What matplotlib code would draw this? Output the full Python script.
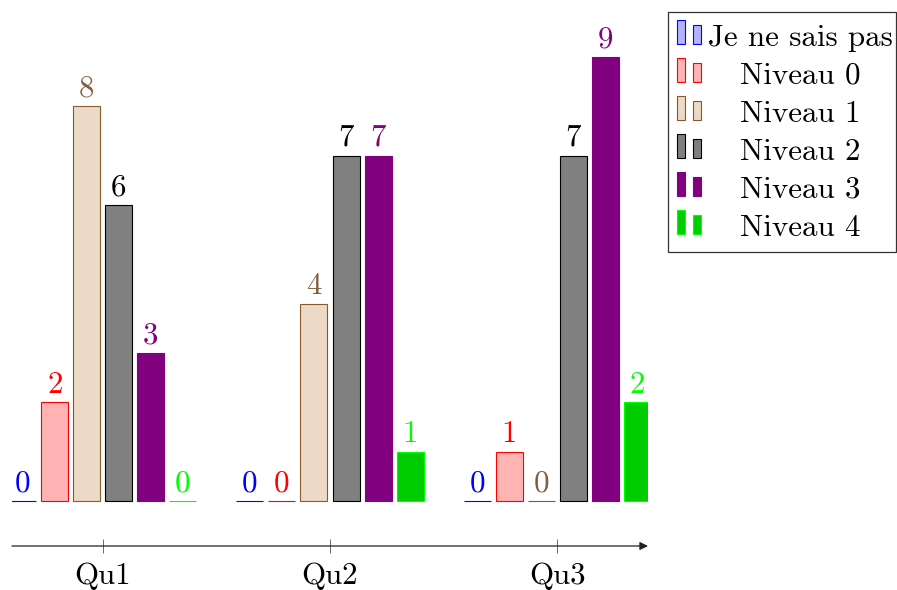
import matplotlib
matplotlib.use('Agg')
import matplotlib.pyplot as plt
from matplotlib.patches import Rectangle
import numpy as np

plt.rcParams['font.family'] = ['cmr10', 'DejaVu Serif']
plt.rcParams['mathtext.fontset'] = 'cm'
plt.rcParams['axes.formatter.use_mathtext'] = True

# ---- data ----
groups = ['Qu1', 'Qu2', 'Qu3']
series_names = ['Je ne sais pas', 'Niveau 0', 'Niveau 1', 'Niveau 2', 'Niveau 3', 'Niveau 4']
je_ne_sais_pas = [0, 0, 0]
niveau0 = [2, 0, 1]
niveau1 = [8, 4, 0]
niveau2 = [6, 7, 7]
niveau3 = [3, 7, 9]
niveau4 = [0, 1, 2]
series = [je_ne_sais_pas, niveau0, niveau1, niveau2, niveau3, niveau4]

fills = ['#b3b3ff', '#ffb3b3', '#ecd9c6', '#808080', '#800080', '#00cc00']
edges = ['#0000ff', '#ff0000', '#865a2d', '#000000', '#800080', '#00ff00']
label_colors = ['#0000ff', '#ff0000', '#80603f', '#000000', '#800080', '#00ff00']

W, H = 897, 590
fig = plt.figure(figsize=(W / 100, H / 100), dpi=100)
ax = fig.add_axes([12 / W, 1 - 546 / H, (648 - 12) / W, (546 - 20) / H])

x = np.arange(1, len(groups) + 1)
bw = 27 / 227
step = 32 / 227
FS = 22.3
for i, vals in enumerate(series):
    xs = x + (i - 2.5) * step
    ax.bar(xs, vals, width=bw, color=fills[i], edgecolor=edges[i], linewidth=0.8)
    for xx, v in zip(xs, vals):
        ax.annotate(str(v), (xx, v), xytext=(0, 7), textcoords='offset points',
                    ha='center', va='baseline', color=label_colors[i], fontsize=FS)

ax.set_xlim(0.6, 3.4)
ax.set_ylim(-0.912, 9.75)
for s in ax.spines.values():
    s.set_visible(False)
ax.set_yticks([])
ax.set_xticks(x, groups)
ax.tick_params(axis='x', direction='inout', length=10, width=0.6, color='#555555',
               pad=6.5, labelsize=FS)
ax.annotate('', xy=(1, 0), xytext=(0, 0), xycoords='axes fraction',
            arrowprops=dict(arrowstyle='-|>', lw=0.9, color='#222222',
                            mutation_scale=12, shrinkA=0, shrinkB=0))

# ---- legend (manual, pgfplots style) ----
def fx(px):
    return px / W

def fy(py):
    return 1 - py / H

fig.patches.append(Rectangle((fx(668), fy(252)), (896 - 668) / W, (252 - 12) / H,
                             transform=fig.transFigure, fill=False,
                             edgecolor='#333333', linewidth=0.9))
for i, name in enumerate(series_names):
    yb = 44 + 38 * i
    fig.patches.append(Rectangle((fx(677), fy(yb)), 7.5 / W, 24 / H,
                                 transform=fig.transFigure, facecolor=fills[i],
                                 edgecolor=edges[i], linewidth=0.8))
    fig.patches.append(Rectangle((fx(692.5), fy(yb)), 8 / W, 19 / H,
                                 transform=fig.transFigure, facecolor=fills[i],
                                 edgecolor=edges[i], linewidth=0.8))
    fig.text(fx(800), fy(yb + 1.5), name, ha='center', va='baseline',
             fontsize=FS, color='black')

fig.savefig('out.png', dpi=100)
